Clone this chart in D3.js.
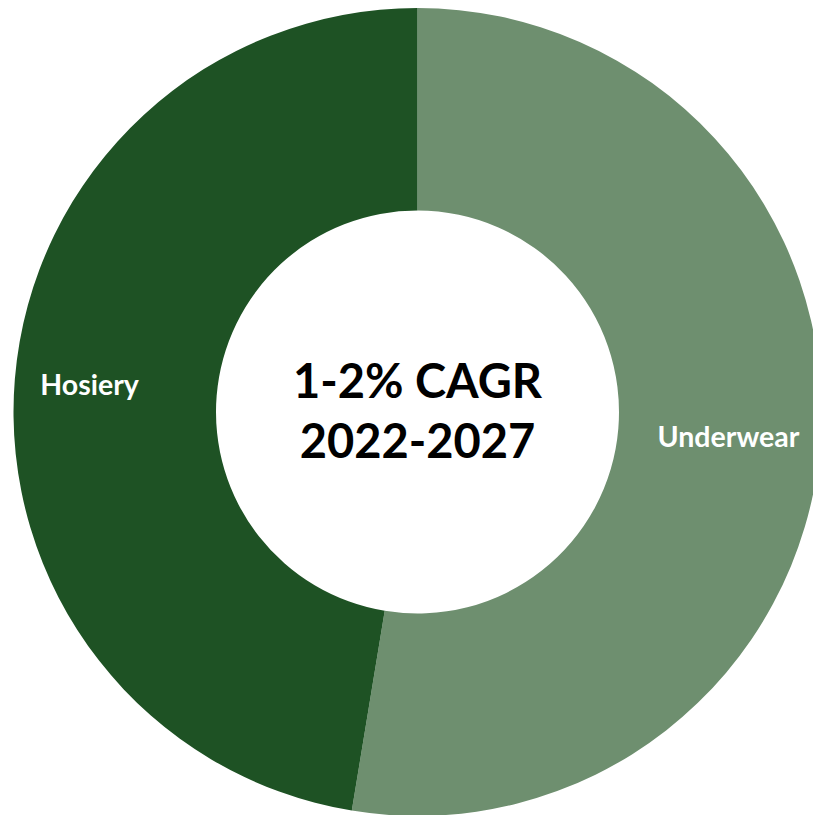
<!DOCTYPE html>
<html>
<head>
<meta charset="utf-8">
<script src="https://cdn.jsdelivr.net/npm/d3@7"></script>
<style>
  html, body { margin: 0; padding: 0; background: #fff; overflow: hidden; }
  svg { display: block; }
</style>
</head>
<body>
<svg id="chart" width="813" height="815"></svg>
<script>
// Market split by category (share of segment, %)
const categories = ["Underwear", "Hosiery"];
const shares = [52.6, 47.4];
const sliceColors = ["#6E8F6F", "#1E5224"];
const centerLines = ["1-2% CAGR", "2022-2027"];

const width = 813, height = 815;
const cx = 417.5, cy = 412;
const outerR = 404, innerR = 201.5;
const labelRadii = [312, 329];

const svg = d3.select("#chart");
const g = svg.append("g").attr("transform", `translate(${cx},${cy})`);

const data = categories.map((c, i) => ({ category: c, value: shares[i], color: sliceColors[i], labelR: labelRadii[i] }));

const pie = d3.pie().sort(null).value(d => d.value);
const arc = d3.arc().innerRadius(innerR).outerRadius(outerR);
const arcs = pie(data);

g.selectAll("path.slice")
  .data(arcs)
  .join("path")
  .attr("class", "slice")
  .attr("d", arc)
  .attr("fill", d => d.data.color);

// Category labels inside each ring segment
g.selectAll("text.label")
  .data(arcs)
  .join("text")
  .attr("class", "label")
  .attr("transform", d => {
    const la = d3.arc().innerRadius(d.data.labelR).outerRadius(d.data.labelR);
    const [x, y] = la.centroid(d);
    return `translate(${x},${y})`;
  })
  .attr("text-anchor", "middle")
  .attr("dy", "0.35em")
  .attr("fill", "#ffffff")
  .style("font-family", "Lato, 'Open Sans', sans-serif")
  .style("font-weight", "700")
  .style("font-size", "28.5px")
  .text(d => d.data.category);

// Center annotation
const center = g.append("text")
  .attr("text-anchor", "middle")
  .attr("fill", "#000")
  .style("font-family", "Lato, 'Open Sans', sans-serif")
  .style("font-weight", "700")
  .style("font-size", "47px");

center.selectAll("tspan")
  .data(centerLines)
  .join("tspan")
  .attr("x", 0)
  .attr("y", (d, i) => -14 + i * 60)
  .text(d => d);
</script>
</body>
</html>
